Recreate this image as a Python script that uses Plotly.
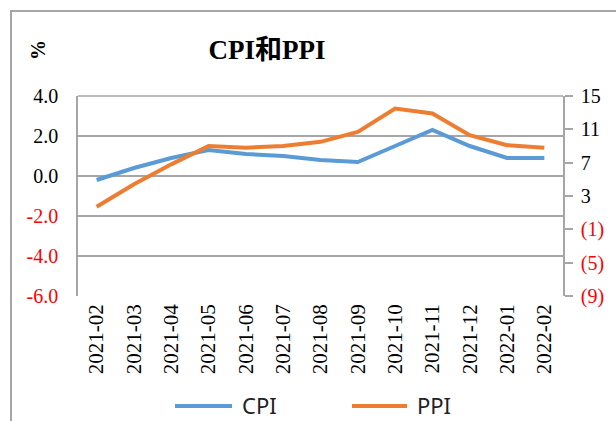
import plotly.graph_objects as go

months = ["2021-02", "2021-03", "2021-04", "2021-05", "2021-06", "2021-07", "2021-08",
          "2021-09", "2021-10", "2021-11", "2021-12", "2022-01", "2022-02"]
cpi = [-0.2, 0.4, 0.9, 1.3, 1.1, 1.0, 0.8, 0.7, 1.5, 2.3, 1.5, 0.9, 0.9]
ppi = [1.7, 4.4, 6.8, 9.0, 8.8, 9.0, 9.5, 10.7, 13.5, 12.9, 10.3, 9.1, 8.8]

left_vals = [4.0, 2.0, 0.0, -2.0, -4.0, -6.0]
right_vals = [15, 11, 7, 3, -1, -5, -9]

series_names = ["CPI", "PPI"]
series_colors = ["#5B9BD5", "#ED7D31"]


def fmt_left(v):
    s = f"{v:.1f}"
    return f"<span style='color:#FF0000'>{s}</span>" if v < 0 else s


def fmt_right(v):
    return f"<span style='color:#FF0000'>({abs(v)})</span>" if v < 0 else str(v)


serif = "Liberation Serif, Times New Roman, serif"
sans = "Noto Sans, Open Sans, sans-serif"

fig = go.Figure()
fig.add_trace(go.Scatter(x=months, y=cpi, name=series_names[0], mode="lines",
                         line=dict(color=series_colors[0], width=4), yaxis="y"))
fig.add_trace(go.Scatter(x=months, y=ppi, name=series_names[1], mode="lines",
                         line=dict(color=series_colors[1], width=4), yaxis="y2"))

L, R, T, B = 78, 53, 96, 125
W, H = 616, 421
pw, ph = W - L - R, H - T - B


def px_x(x):
    return (x - L) / pw


def px_y(y):
    return (H - B - y) / ph


# manual legend (line swatch + label)
legend_y = 405
legend_items = [(175, 232, 240), (352, 407, 415)]
shapes = [
    dict(type="rect", xref="paper", yref="paper",
         x0=px_x(11), x1=2, y0=-2, y1=px_y(11),
         line=dict(color="#A6A6A6", width=2), fillcolor="rgba(0,0,0,0)", layer="below"),
    dict(type="line", xref="paper", yref="paper", x0=0, x1=1, y0=1, y1=1,
         line=dict(color="#A6A6A6", width=1.5)),
]
annotations = [
    dict(text="<b>%</b>", xref="paper", yref="paper", x=px_x(38), y=px_y(50),
         showarrow=False, textangle=-90, font=dict(family=serif, size=20, color="black"),
         xanchor="center", yanchor="middle"),
]
for (x0, x1, tx), name, color in zip(legend_items, series_names, series_colors):
    shapes.append(dict(type="line", xref="paper", yref="paper", x0=px_x(x0), x1=px_x(x1),
                       y0=px_y(legend_y + 1), y1=px_y(legend_y + 1), line=dict(color=color, width=4)))
    annotations.append(dict(text=name, xref="paper", yref="paper", x=px_x(tx), y=px_y(legend_y),
                            xanchor="left", yanchor="middle", showarrow=False,
                            font=dict(family=sans, size=22, color="#222222")))

fig.update_layout(
    width=W, height=H,
    margin=dict(l=L, r=R, t=T, b=B, pad=0, autoexpand=False),
    paper_bgcolor="white", plot_bgcolor="white",
    showlegend=False,
    title=dict(text="<b>CPI和PPI</b>", x=267 / W, xanchor="center", y=1 - 50 / H, yanchor="middle",
               font=dict(family=serif + ", Noto Sans CJK SC", size=27, color="black")),
    xaxis=dict(type="category", tickangle=-90, showgrid=False, showline=False,
               ticks="", tickfont=dict(family=serif, size=21, color="black"),
               ticklabelstandoff=3, range=[-0.5, 12.5], automargin=False),
    yaxis=dict(range=[-6, 4], tickvals=left_vals, ticktext=[fmt_left(v) for v in left_vals],
               showgrid=True, gridcolor="#A6A6A6", gridwidth=1.5, zeroline=False,
               showline=True, linecolor="#A6A6A6", linewidth=1.5, ticks="",
               tickfont=dict(family=serif, size=20, color="black"), ticklabelstandoff=14,
               automargin=False),
    yaxis2=dict(range=[-9, 15], tickvals=right_vals, ticktext=[fmt_right(v) for v in right_vals],
                overlaying="y", side="right", showgrid=False, zeroline=False,
                showline=True, linecolor="#A6A6A6", linewidth=1.5,
                ticks="outside", ticklen=8, tickwidth=1.5, tickcolor="#A6A6A6",
                tickfont=dict(family=serif, size=20, color="black"), ticklabelstandoff=4,
                automargin=False),
    shapes=shapes,
    annotations=annotations,
)

fig.write_html("out.html", config={"displayModeBar": False},
               post_script="document.body.style.margin='0';document.body.style.overflow='hidden';")
